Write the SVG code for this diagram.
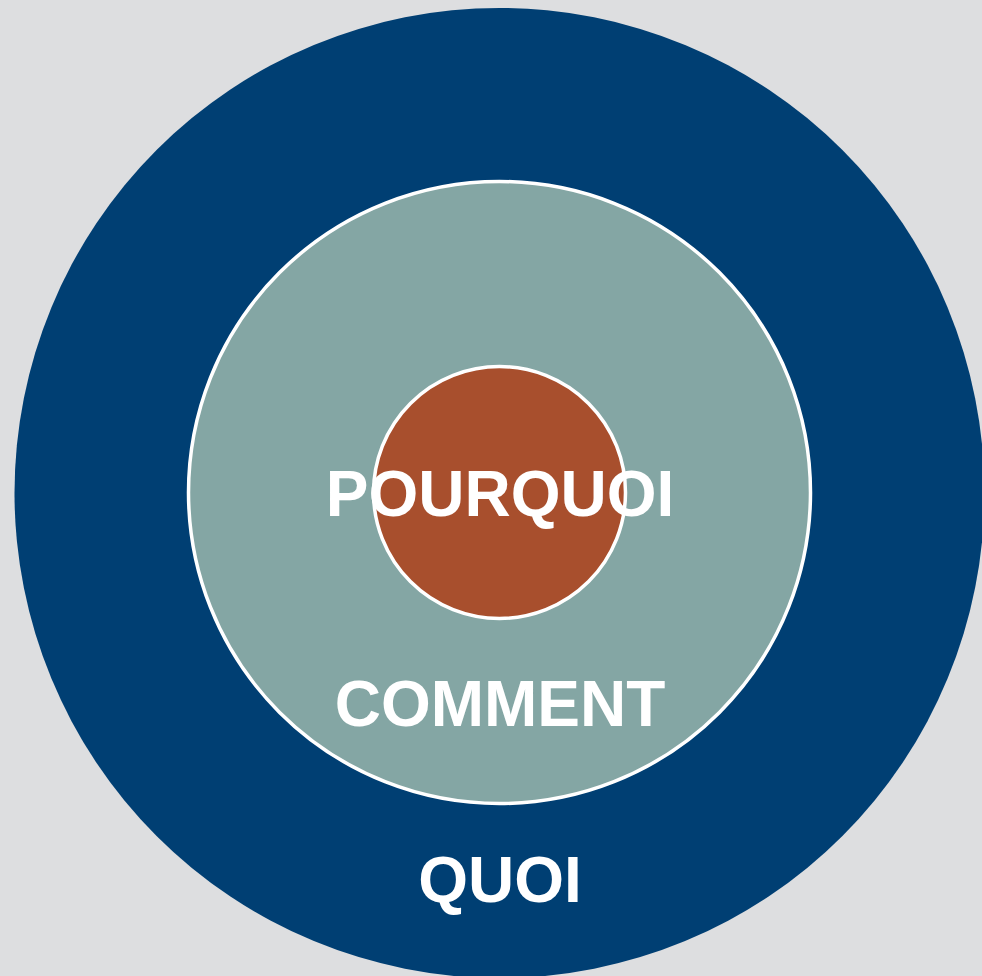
<svg xmlns="http://www.w3.org/2000/svg" width="982" height="976" viewBox="0 0 982 976">
<style>
.lbl{font-family:"Liberation Sans",Arial,sans-serif;font-weight:bold;font-size:64px;fill:#ffffff;text-anchor:middle}
.ring{stroke:#ffffff;stroke-width:3.5}
</style>
<rect width="982" height="976" fill="#DDDEE0"/>
<g id="quoi">
<circle cx="499.5" cy="493" r="485" fill="#003F73"/>
<text class="lbl" x="500" y="902">QUOI</text>
</g>
<g id="comment">
<circle class="ring" cx="499.5" cy="492.5" r="311" fill="#84A6A4"/>
<text class="lbl" x="500" y="726">COMMENT</text>
</g>
<g id="pourquoi">
<circle class="ring" cx="499.5" cy="492.5" r="126" fill="#A84F2D"/>
<text class="lbl" x="500" y="516">POURQUOI</text>
</g>
<g id="connectors"/>
</svg>
